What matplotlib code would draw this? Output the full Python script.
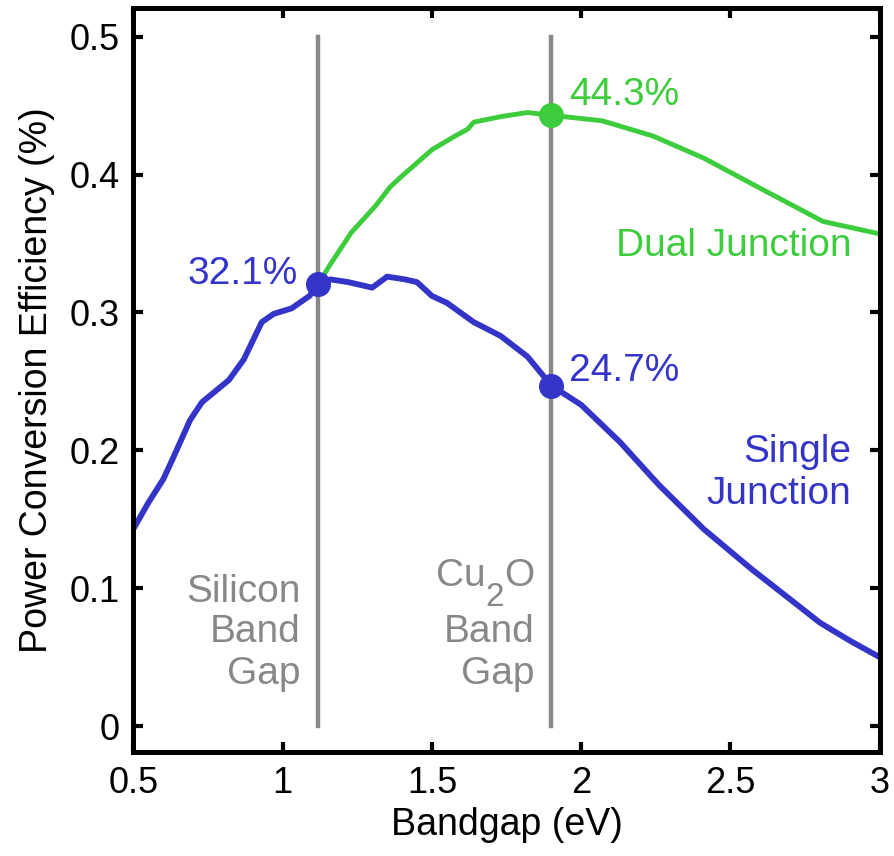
import numpy as np
import matplotlib
matplotlib.use("Agg")
import matplotlib.pyplot as plt

plt.rcParams['font.family'] = ['Liberation Sans', 'DejaVu Sans']

# single junction efficiency vs bandgap
single_eV = [0.50, 0.55, 0.60, 0.63, 0.69, 0.73, 0.82, 0.87, 0.93, 0.97, 1.03, 1.09, 1.12,
             1.16, 1.22, 1.30, 1.35, 1.41, 1.45, 1.50, 1.55, 1.64, 1.73, 1.82,
             1.90, 2.00, 2.13, 2.26, 2.41, 2.57, 2.70, 2.80, 2.90, 3.00]
single_eff = [0.143, 0.162, 0.179, 0.193, 0.222, 0.235, 0.251, 0.266, 0.293, 0.299, 0.303, 0.312, 0.321,
              0.324, 0.322, 0.318, 0.326, 0.324, 0.322, 0.312, 0.307, 0.293, 0.283, 0.268,
              0.247, 0.233, 0.206, 0.175, 0.143, 0.114, 0.092, 0.075, 0.062, 0.050]

# dual junction (on silicon) efficiency vs top-cell bandgap
dual_eV = [1.12, 1.16, 1.23, 1.31, 1.36, 1.40, 1.50, 1.57, 1.62, 1.64, 1.73, 1.82,
           1.90, 2.07, 2.24, 2.41, 2.60, 2.81, 3.00]
dual_eff = [0.321, 0.335, 0.358, 0.377, 0.391, 0.399, 0.418, 0.427, 0.433, 0.438, 0.442, 0.445,
            0.443, 0.439, 0.428, 0.412, 0.390, 0.366, 0.357]

si_gap = 1.12
cu2o_gap = 1.90
si_single = 0.321
cu2o_single = 0.247
cu2o_dual = 0.443

blue = '#3434c8'
green = '#3ccc3c'
gray = '#888888'
fs = 28

fig = plt.figure(figsize=(8.95, 8.56), dpi=100)
ax = fig.add_axes([0.149, 0.121, 0.834, 0.870])

ax.plot([si_gap, si_gap], [0, 0.5], color=gray, lw=3.2, zorder=1)
ax.plot([cu2o_gap, cu2o_gap], [0, 0.5], color=gray, lw=3.2, zorder=1)

ax.plot(single_eV, single_eff, color=blue, lw=4.2, zorder=2, solid_joinstyle='round')
ax.plot(dual_eV, dual_eff, color=green, lw=3.5, zorder=2, solid_joinstyle='round')

ax.plot(si_gap, si_single, 'o', color=blue, ms=17, zorder=3)
ax.plot(cu2o_gap, cu2o_single, 'o', color=blue, ms=17, zorder=3)
ax.plot(cu2o_gap, cu2o_dual, 'o', color=green, ms=17, zorder=3)

ax.text(1.052, 0.3203, '32.1%', color=blue, fontsize=fs, ha='right', va='baseline')
ax.text(1.958, 0.250, '24.7%', color=blue, fontsize=fs, ha='left', va='baseline')
ax.text(1.958, 0.4507, '44.3%', color=green, fontsize=fs, ha='left', va='baseline')
ax.text(2.904, 0.3406, 'Dual Junction', color=green, fontsize=fs, ha='right', va='baseline')
ax.text(2.904, 0.1913, 'Single', color=blue, fontsize=fs, ha='right', va='baseline')
ax.text(2.904, 0.1609, 'Junction', color=blue, fontsize=fs, ha='right', va='baseline')

# band gap captions, one line at a time
for label, y in zip(['Silicon', 'Band', 'Gap'], [0.0899, 0.0609, 0.0304]):
    ax.text(1.059, y, label, color=gray, fontsize=fs, ha='right', va='baseline')
for label, y in zip(['Band', 'Gap'], [0.0609, 0.0304]):
    ax.text(1.843, y, label, color=gray, fontsize=fs, ha='right', va='baseline')

# Cu2O with a large, well-lowered subscript
fig.canvas.draw()
rend = fig.canvas.get_renderer()
t_o = ax.text(1.843, 0.1014, 'O', color=gray, fontsize=fs, ha='right', va='baseline')
w_o = t_o.get_window_extent(rend).width
t_2 = ax.annotate('2', xy=(1.843, 0.1014), xycoords='data', xytext=(-w_o, -20),
                  textcoords='offset pixels', color=gray, fontsize=24,
                  ha='right', va='baseline')
w_2 = t_2.get_window_extent(rend).width
ax.annotate('Cu', xy=(1.843, 0.1014), xycoords='data', xytext=(-w_o - w_2, 0),
            textcoords='offset pixels', color=gray, fontsize=fs,
            ha='right', va='baseline')

ax.set_xlim(0.5, 3.0)
ax.set_ylim(-0.019, 0.521)
ax.set_xticks([0.5, 1, 1.5, 2, 2.5, 3])
ax.set_xticklabels(['0.5', '1', '1.5', '2', '2.5', '3'])
ax.set_yticks([0, 0.1, 0.2, 0.3, 0.4, 0.5])
ax.set_yticklabels(['0', '0.1', '0.2', '0.3', '0.4', '0.5'])
ax.tick_params(direction='in', length=7, width=3, labelsize=26, pad=10,
               top=True, right=True)
for s in ax.spines.values():
    s.set_linewidth(3.6)

ax.set_xlabel('Bandgap (eV)', fontsize=27, labelpad=4)
ax.set_ylabel('Power Conversion Efficiency (%)', fontsize=27, labelpad=10)

fig.savefig('out.png', dpi=100)
